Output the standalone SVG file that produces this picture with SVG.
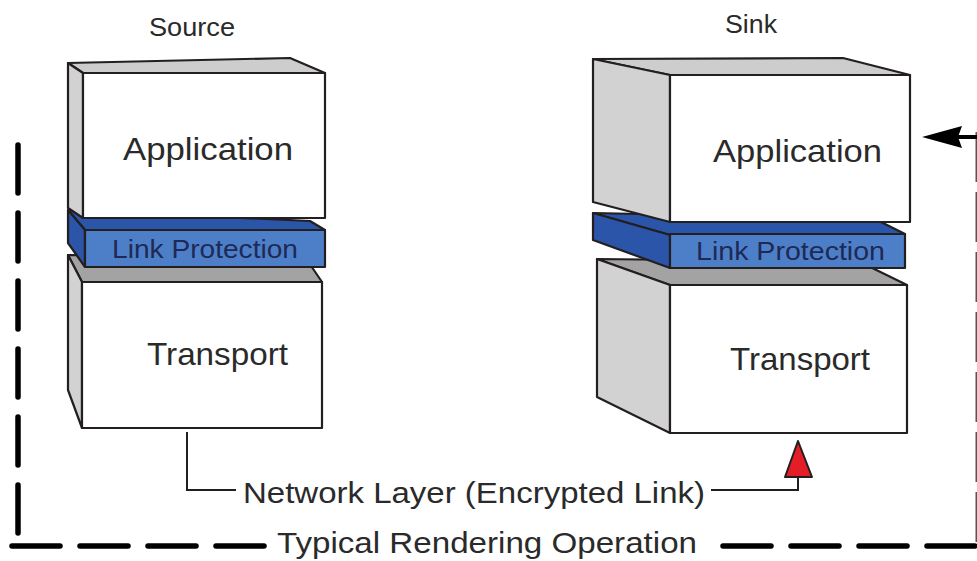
<svg xmlns="http://www.w3.org/2000/svg" width="977" height="561" viewBox="0 0 977 561">
<style>
.edge{stroke:#231f20;stroke-width:2.2;stroke-linejoin:round}
.front{fill:#ffffff}
.side{fill:#d2d2d2}
.topL{fill:#cdcdcd}
.topD{fill:#a3a3a3}
.blueTop{fill:#2b55a8}
.blueFront{fill:#4d7fc9}
.lbl{font-family:"Liberation Sans",Arial,sans-serif;fill:#2a2a2a}
.big{font-size:32px}
.lp{font-size:25px;fill:#1e2a55}
.title{font-size:26px}
.dash{fill:none;stroke:#000;stroke-width:5.5;stroke-linecap:round;stroke-dasharray:48 20}
.thin{fill:none;stroke:#231f20;stroke-width:2}
</style>

<g id="source-title"><text class="lbl title" x="149" y="36" textLength="86" lengthAdjust="spacingAndGlyphs">Source</text></g>
<g id="sink-title"><text class="lbl title" x="725" y="33" textLength="52" lengthAdjust="spacingAndGlyphs">Sink</text></g>

<g id="source-transport">
<polygon class="topD edge" points="68,255 305,257 322,282 82,282"/>
<polygon class="side edge" points="68,255 82,282 82,428 68,390"/>
<rect class="front edge" x="82" y="282" width="240" height="146"/>
<text class="lbl big" x="147" y="365" textLength="141" lengthAdjust="spacingAndGlyphs">Transport</text>
</g>

<g id="source-link">
<polygon class="blueTop edge" points="68,210 310,221 325,230 85,230"/>
<polygon class="blueTop edge" points="68,210 85,230 85,267 68,243"/>
<rect class="blueFront edge" x="85" y="230" width="240" height="37"/>
<text class="lbl lp" x="112" y="258" textLength="186" lengthAdjust="spacingAndGlyphs">Link Protection</text>
</g>

<g id="source-application">
<polygon class="topL edge" points="68,63 290,58 325,73 83,73"/>
<polygon class="side edge" points="68,63 83,73 83,218 68,208"/>
<rect class="front edge" x="83" y="73" width="242" height="145"/>
<text class="lbl big" x="123" y="160" textLength="170" lengthAdjust="spacingAndGlyphs">Application</text>
</g>

<g id="sink-transport">
<polygon class="topD edge" points="597,259 860,262 907,285 670,285"/>
<polygon class="side edge" points="597,259 670,285 670,433 597,397"/>
<rect class="front edge" x="670" y="285" width="237" height="148"/>
<text class="lbl big" x="730" y="370" textLength="140" lengthAdjust="spacingAndGlyphs">Transport</text>
</g>

<g id="sink-link">
<polygon class="blueTop edge" points="593,213 875,219 905,234 670,235"/>
<polygon class="blueTop edge" points="593,213 670,235 670,268 593,240"/>
<rect class="blueFront edge" x="670" y="234" width="235" height="34"/>
<text class="lbl lp" x="696" y="260" textLength="189" lengthAdjust="spacingAndGlyphs">Link Protection</text>
</g>

<g id="sink-application">
<polygon class="topL edge" points="593,59 843,58 910,75 670,75"/>
<polygon class="side edge" points="593,59 670,75 670,222 593,202"/>
<rect class="front edge" x="670" y="75" width="240" height="147"/>
<text class="lbl big" x="713" y="162" textLength="169" lengthAdjust="spacingAndGlyphs">Application</text>
</g>

<g id="connectors">
<polyline class="thin" points="187,432 187,490 236,490"/>
<polyline class="thin" points="711,490 798,490 798,477"/>
<polygon points="798,441 785,477 812,477" fill="#e41e26" stroke="#231f20" stroke-width="2" stroke-linejoin="round"/>
<path class="dash" d="M18,145 V540"/>
<path class="dash" d="M12,546 H270"/>
<path class="dash" d="M723,546 H980"/>
<path fill="none" stroke="#555" stroke-width="3" stroke-dasharray="50 10" d="M977,132 V545"/>
<line x1="977" y1="137" x2="955" y2="137" stroke="#000" stroke-width="4"/>
<polygon points="922,137 962,126 958,137 962,148" fill="#000"/>
</g>

<g id="labels">
<text class="lbl" font-size="29" x="243" y="503" textLength="462" lengthAdjust="spacingAndGlyphs">Network Layer (Encrypted Link)</text>
<text class="lbl" font-size="29" x="277" y="553" textLength="420" lengthAdjust="spacingAndGlyphs">Typical Rendering Operation</text>
</g>
</svg>
